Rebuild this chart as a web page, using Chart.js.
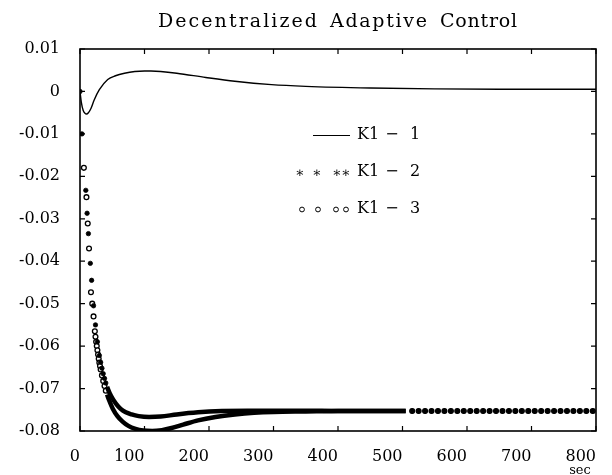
<!DOCTYPE html>
<html>
<head>
<meta charset="utf-8">
<script src="https://cdn.jsdelivr.net/npm/chart.js@4/dist/chart.umd.min.js"></script>
<style>
  html, body { margin: 0; padding: 0; background: #fff; }
  #c { display: block; }
</style>
</head>
<body>
<canvas id="c" width="612" height="475"></canvas>
<script>
// ---------------- data ----------------
const chartTitle = "Decentralized Adaptive Control";
const xTickValues = [0, 100, 200, 300, 400, 500, 600, 700, 800];
const xTickLabels = ["0", "100", "200", "300", "400", "500", "600", "700", "800"];
const yTickValues = [0.01, 0, -0.01, -0.02, -0.03, -0.04, -0.05, -0.06, -0.07, -0.08];
const yTickLabels = ["0.01", "0", "-0.01", "-0.02", "-0.03", "-0.04", "-0.05", "-0.06", "-0.07", "-0.08"];
const seriesNames = ["K1 \u2212 1", "K1 \u2212 2", "K1 \u2212 3"];
const xUnit = "sec";

// K1-1 (solid line)
const k1Time  = [0, 2, 5, 8, 10, 13, 17, 22, 30, 43, 55, 69, 85, 100, 110, 125, 150, 195, 240, 297, 350, 450, 550, 650, 800];
const k1Value = [0, -0.0025, -0.0045, -0.0052, -0.0053, -0.0050, -0.0040, -0.0020, 0.0004, 0.0028, 0.0037, 0.0043, 0.0047, 0.0048, 0.0048, 0.0047, 0.0043, 0.0033, 0.0024, 0.0016, 0.0012, 0.0008, 0.0006, 0.0005, 0.0005];

// K1-2 (asterisks)
const k2Time  = [0, 3, 9, 11, 13, 16, 18, 21, 24, 27, 30, 32, 34, 36, 38, 40, 42, 46, 51, 56, 63, 71, 80, 91, 107, 125, 150, 183, 220, 260, 300, 350, 400, 450, 505,
                 515, 525, 535, 545, 555, 565, 575, 585, 595, 605, 615, 625, 635, 645, 655, 665, 675, 685, 695, 705, 715, 725, 735, 745, 755, 765, 775, 785, 795];
const k2Value = [0, -0.010, -0.0233, -0.0287, -0.0335, -0.0405, -0.0445, -0.0505, -0.0550, -0.0590, -0.0622, -0.0638, -0.0652, -0.0665, -0.0676, -0.0687, -0.0696, -0.0711, -0.0725, -0.0736, -0.0748, -0.0756, -0.0761, -0.0765, -0.0767, -0.0766, -0.0761, -0.0756, -0.0753, -0.0752, -0.0752, -0.0752, -0.0753, -0.0753, -0.0753,
                 -0.0753, -0.0753, -0.0753, -0.0753, -0.0753, -0.0753, -0.0753, -0.0753, -0.0753, -0.0753, -0.0753, -0.0753, -0.0753, -0.0753, -0.0753, -0.0753, -0.0753, -0.0753, -0.0753, -0.0753, -0.0753, -0.0753, -0.0753, -0.0753, -0.0753, -0.0753, -0.0753, -0.0753, -0.0753];

// K1-3 (circles)
const k3Time  = [6, 10, 12, 14, 17, 19, 21, 23, 24, 25, 26, 27, 28, 29, 30, 31, 32, 34, 36, 38, 40, 42, 45, 51, 58, 66, 75, 86, 98, 112, 127, 142, 160, 183, 210, 240, 270, 300, 350, 400, 450, 505,
                 515, 525, 535, 545, 555, 565, 575, 585, 595, 605, 615, 625, 635, 645, 655, 665, 675, 685, 695, 705, 715, 725, 735, 745, 755, 765, 775, 785, 795];
const k3Value = [-0.018, -0.0249, -0.0311, -0.0370, -0.0473, -0.0500, -0.0530, -0.0565, -0.0578, -0.0590, -0.0600, -0.0610, -0.0620, -0.0630, -0.0639, -0.0647, -0.0655, -0.0669, -0.0682, -0.0694, -0.0705, -0.0714, -0.0727, -0.0748, -0.0765, -0.0778, -0.0788, -0.0795, -0.0799, -0.0800, -0.0798, -0.0793, -0.0785, -0.0775, -0.0767, -0.0761, -0.0757, -0.0755, -0.0754, -0.0753, -0.0753, -0.0753,
                 -0.0753, -0.0753, -0.0753, -0.0753, -0.0753, -0.0753, -0.0753, -0.0753, -0.0753, -0.0753, -0.0753, -0.0753, -0.0753, -0.0753, -0.0753, -0.0753, -0.0753, -0.0753, -0.0753, -0.0753, -0.0753, -0.0753, -0.0753, -0.0753, -0.0753, -0.0753, -0.0753, -0.0753, -0.0753];

// ---------------- build ----------------
const pts = (xs, ys) => xs.map((x, i) => ({ x: x, y: ys[i] }));
const FONT = "'DejaVu Serif', 'Liberation Serif', serif";
const BAND_START = 42, BAND_END = 505;

const inBand = (x) => x >= BAND_START && x <= BAND_END;
const bandSegment = {
  borderColor: (ctx) => (inBand(ctx.p0.parsed.x) && inBand(ctx.p1.parsed.x)) ? '#000' : 'rgba(0,0,0,0)'
};

const decor = {
  id: 'decor',
  afterDatasetsDraw(chart) {
    const ctx = chart.ctx;
    const a = chart.chartArea;
    const xs = chart.scales.x, ys = chart.scales.y;
    ctx.save();
    ctx.strokeStyle = '#000';
    ctx.lineWidth = 1.6;
    ctx.strokeRect(a.left, a.top, a.right - a.left, a.bottom - a.top);
    ctx.lineWidth = 1.2;
    const tl = 5;
    xTickValues.forEach(v => {
      const px = xs.getPixelForValue(v);
      ctx.beginPath();
      ctx.moveTo(px, a.bottom); ctx.lineTo(px, a.bottom - tl);
      ctx.moveTo(px, a.top); ctx.lineTo(px, a.top + tl);
      ctx.stroke();
    });
    yTickValues.forEach(v => {
      const py = ys.getPixelForValue(v);
      ctx.beginPath();
      ctx.moveTo(a.left, py); ctx.lineTo(a.left + tl, py);
      ctx.moveTo(a.right, py); ctx.lineTo(a.right - tl, py);
      ctx.stroke();
    });

    // legend
    ctx.fillStyle = '#000';
    ctx.textBaseline = 'alphabetic';
    const rows = [139, 176, 213];
    const drawName = (name, y) => {
      const parts = name.split(' ');
      ctx.font = "16px " + FONT;
      ctx.textAlign = 'left';
      ctx.fillText(parts[0], 357, y);
      ctx.textAlign = 'center';
      ctx.fillText(parts[1], 392, y);
      ctx.textAlign = 'left';
      ctx.fillText(parts[2], 410, y);
    };
    // row 1: line
    ctx.lineWidth = 1;
    ctx.beginPath(); ctx.moveTo(313, 135.5); ctx.lineTo(350, 135.5); ctx.stroke();
    drawName(seriesNames[0], rows[0]);
    // row 2: asterisks
    ctx.font = "14px " + FONT;
    ctx.textAlign = 'center';
    ctx.textBaseline = 'middle';
    [300, 317, 337, 346].forEach(x => ctx.fillText('\u2217', x, 173));
    ctx.textBaseline = 'alphabetic';
    drawName(seriesNames[1], rows[1]);
    // row 3: circles
    ctx.lineWidth = 1;
    [302, 318, 336, 346].forEach(x => { ctx.beginPath(); ctx.arc(x, 209.5, 2.4, 0, Math.PI * 2); ctx.stroke(); });
    drawName(seriesNames[2], rows[2]);

    // title (letter-spaced words)
    ctx.font = "19px " + FONT;
    ctx.textAlign = 'left';
    const words = chartTitle.split(' ');
    const wordBoxes = [[158, 159], [330, 97], [440, 77]];
    words.forEach((w, i) => {
      const [x0, wd] = wordBoxes[i];
      ctx.letterSpacing = '0px';
      const m = ctx.measureText(w).width;
      const ls = (wd - m) / Math.max(1, w.length - 1);
      ctx.letterSpacing = ls + 'px';
      ctx.fillText(w, x0, 27);
    });
    ctx.letterSpacing = '0px';

    // unit
    ctx.font = "13px " + FONT;
    ctx.textAlign = 'center';
    ctx.fillText(xUnit, 580, 474);
    ctx.restore();
  }
};

new Chart(document.getElementById('c'), {
  type: 'scatter',
  data: {
    datasets: [
      {
        label: seriesNames[0],
        data: pts(k1Time, k1Value),
        showLine: true,
        borderColor: '#000',
        borderWidth: 1.4,
        pointRadius: 0,
        cubicInterpolationMode: 'monotone'
      },
      {
        label: seriesNames[1],
        data: pts(k2Time, k2Value),
        showLine: true,
        borderColor: '#000',
        borderWidth: 4.5,
        segment: bandSegment,
        cubicInterpolationMode: 'monotone',
        pointStyle: 'circle',
        pointRadius: (ctx) => inBand(ctx.parsed ? ctx.parsed.x : 0) ? 0 : 2.2,
        pointBackgroundColor: '#000',
        pointBorderColor: '#000',
        pointBorderWidth: 0.8
      },
      {
        label: seriesNames[2],
        data: pts(k3Time, k3Value),
        showLine: true,
        borderColor: '#000',
        borderWidth: 4.5,
        segment: bandSegment,
        cubicInterpolationMode: 'monotone',
        pointStyle: 'circle',
        pointRadius: (ctx) => inBand(ctx.parsed ? ctx.parsed.x : 0) ? 0 : 2.4,
        pointBackgroundColor: '#fff',
        pointBorderColor: '#000',
        pointBorderWidth: 1.3
      }
    ]
  },
  options: {
    responsive: false,
    animation: false,
    devicePixelRatio: 1,
    layout: { padding: { top: 49, right: 7, left: 0, bottom: 0 } },
    plugins: { legend: { display: false }, title: { display: false }, tooltip: { enabled: false } },
    scales: {
      x: {
        type: 'linear', min: 0, max: 800,
        grid: { display: false, drawTicks: false },
        border: { display: false },
        afterFit: (s) => { s.height = 44; },
        afterBuildTicks: (s) => { s.ticks = xTickValues.map(v => ({ value: v })); },
        ticks: {
          align: 'end',
          padding: 16,
          color: '#000',
          font: { family: FONT, size: 16 },
          callback: (v) => { const i = xTickValues.indexOf(v); return i >= 0 ? xTickLabels[i] : ''; }
        }
      },
      y: {
        type: 'linear', min: -0.08, max: 0.01,
        grid: { display: false, drawTicks: false },
        border: { display: false },
        afterFit: (s) => { s.width = 80; },
        afterBuildTicks: (s) => { s.ticks = yTickValues.map(v => ({ value: v })); },
        ticks: {
          padding: 20,
          color: '#000',
          font: { family: FONT, size: 16 },
          callback: (v) => {
            let idx = -1;
            yTickValues.forEach((t, i) => { if (Math.abs(t - v) < 1e-9) idx = i; });
            return idx >= 0 ? yTickLabels[idx] : '';
          }
        }
      }
    }
  },
  plugins: [decor]
});
</script>
</body>
</html>
